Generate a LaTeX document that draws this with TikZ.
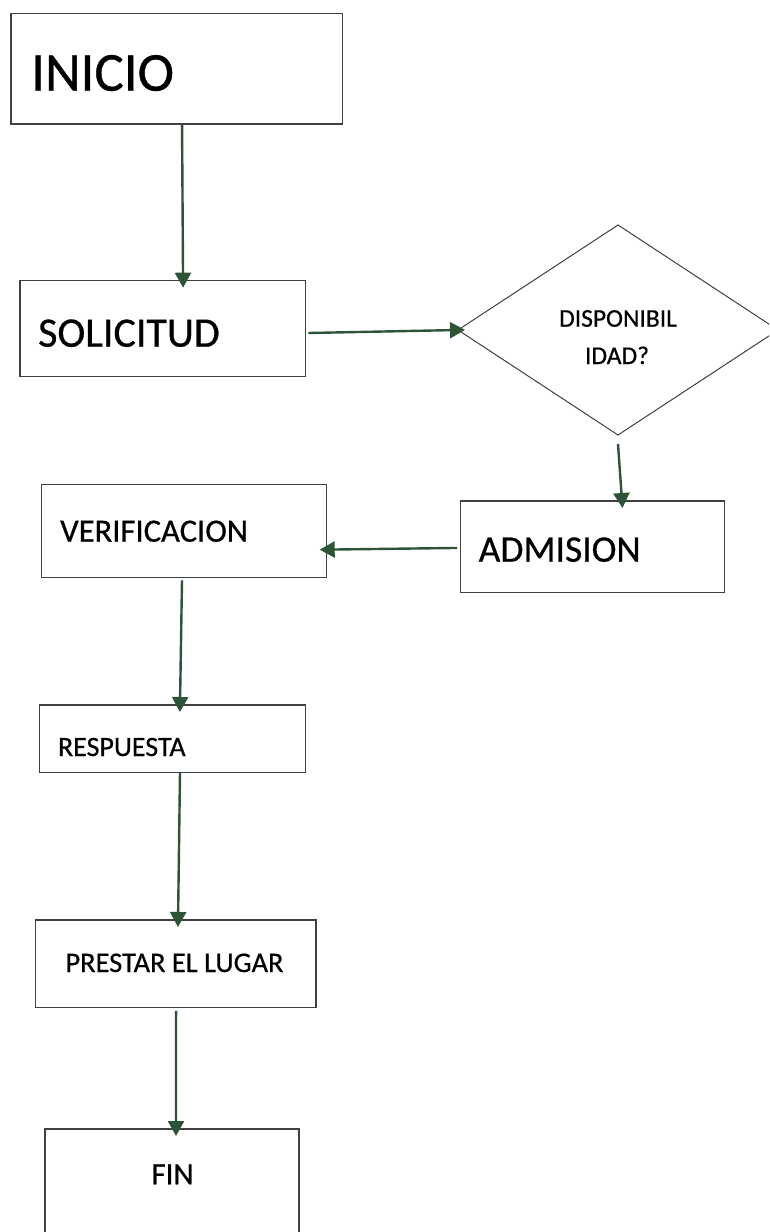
\documentclass[tikz,border=0pt]{standalone}
\usepackage{fontspec}
\setmainfont{Carlito}[RawFeature={embolden=0.6}]
\usetikzlibrary{arrows.meta}
\definecolor{flowgreen}{HTML}{2D5436}
\definecolor{boxgray}{HTML}{404040}
\newcommand{\fs}[1]{\fontsize{#1}{#1}\selectfont}
\begin{document}
\begin{tikzpicture}[x=1pt,y=-1pt,
  box/.style={draw=boxgray, line width=1.3pt, fill=white, inner sep=0pt, outer sep=0pt},
  lbl/.style={anchor=base west, inner sep=0pt, text=black},
  clbl/.style={anchor=base, inner sep=0pt, text=black},
  arr/.style={draw=flowgreen, line width=2.4pt,
    -{Triangle[length=15pt 0,width=16pt 0]}, shorten >=-7pt}]
\useasboundingbox (0,0) rectangle (769,1232);
\clip (0,0) rectangle (769,1232);
\fill[white] (0,0) rectangle (769,1232);

% process boxes
\node[box, minimum width=331.7pt, minimum height=110.7pt] (inicio) at (176.85,68.65) {};
\node[box, minimum width=285.3pt, minimum height=96pt] (solicitud) at (162.65,328.7) {};
\node[box, minimum width=285pt, minimum height=93pt] (verif) at (184.2,530.8) {};
\node[box, minimum width=263.6pt, minimum height=91.3pt] (admision) at (592.5,546.65) {};
\node[box, minimum width=266.4pt, minimum height=67.3pt] (respuesta) at (172.5,738.65) {};
\node[box, minimum width=280.3pt, minimum height=87.3pt] (prestar) at (175.85,963.65) {};
\node[box, minimum width=254pt, minimum height=120pt] (fin) at (172,1189) {};

% decision diamond
\coordinate (dtop) at (618,225);
\coordinate (dright) at (778,330);
\coordinate (dbot) at (618,435);
\coordinate (dleft) at (458,330);
\draw[boxgray, line width=1pt, fill=white] (dtop) -- (dright) -- (dbot) -- (dleft) -- cycle;

% texts
\node[lbl] (tinicio) at (31,90.7) {\fs{55}INICIO};
\node[lbl] (tsolicitud) at (38,346.7) {\fs{42}SOLICITUD};
\node[lbl] (tverif) at (60,541.7) {\fs{32.6}VERIFICACION};
\node[lbl] (tadmision) at (478.5,561.7) {\fs{37.5}ADMISION};
\node[lbl] (trespuesta) at (57.8,756) {\fs{28}RESPUESTA};
\node[lbl] (tprestar) at (65.3,972) {\fs{28.4}PRESTAR EL LUGAR};
\node[clbl] (tfin) at (172.5,1184.3) {\fs{31}FIN};
\node[clbl] (tdisp1) at (618,326.7) {\fs{25.5}DISPONIBIL};
\node[clbl] (tdisp2) at (617,364) {\fs{25.5}IDAD?};

% connectors
\draw[arr] ([xshift=5.2pt,yshift=-1pt]inicio.south) -- ([xshift=20.4pt]solicitud.north);
\draw[arr] ([xshift=3pt,yshift=-4.3pt]solicitud.east) -- (dleft);
\draw[arr] ([yshift=-9pt]dbot) -- ([xshift=29.5pt]admision.north);
\draw[arr] ([xshift=-3.5pt,yshift=-1.3pt]admision.west) -- ([yshift=-18.8pt]verif.east);
\draw[arr] ([xshift=-2.2pt,yshift=-3pt]verif.south) -- ([xshift=7.5pt]respuesta.north);
\draw[arr] ([xshift=7.5pt]respuesta.south) -- ([xshift=2.2pt]prestar.north);
\draw[arr] ([xshift=0.2pt,yshift=-3.5pt]prestar.south) -- ([xshift=4pt]fin.north);
\end{tikzpicture}
\end{document}
